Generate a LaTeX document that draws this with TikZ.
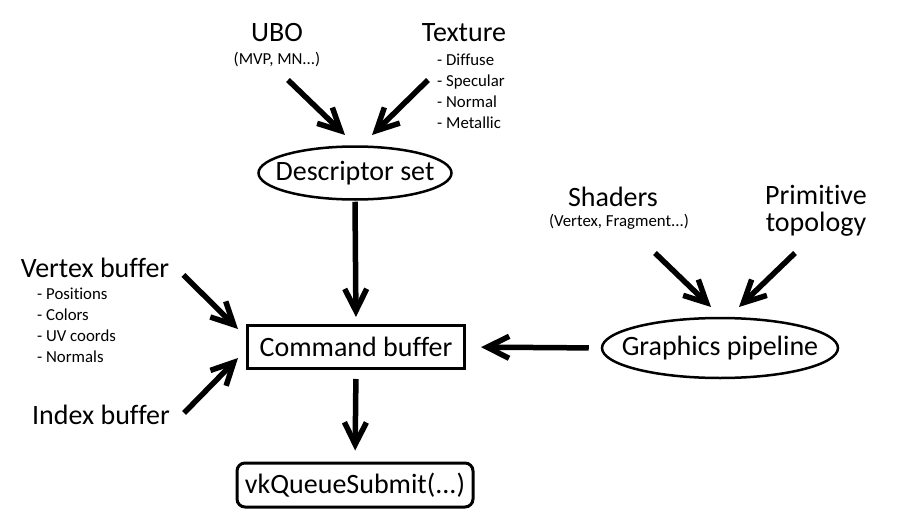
\documentclass[tikz,border=0pt]{standalone}
\usepackage{fontspec}
\setmainfont{Carlito}[Ligatures=NoCommon]
\usetikzlibrary{arrows.meta,positioning,shapes.geometric}

\begin{document}
\begin{tikzpicture}[
  x=1pt, y=-1pt,
  every node/.style={font=\fontsize{28}{27}\selectfont, inner sep=0pt},
  title/.style={align=center},
  items/.style={font=\fontsize{16.8}{21}\selectfont, align=left},
  note/.style={font=\fontsize{16.8}{21}\selectfont},
  oval/.style={draw, ellipse, line width=2.5pt},
  box/.style={draw, line width=3pt},
  arrow/.style={line width=5.5pt, -{Straight Barb[length=22pt,width=22pt]}}
]
\useasboundingbox (0,0) rectangle (911,527);

% descriptor set and its inputs
\node[title] (ubo) at (277,33) {UBO};
\node[note] (ubosub) at (277,60) {(MVP, MN...)};
\node[title] (tex) at (464,33) {Texture};
\node[items, anchor=west] (texlist) at (437,91) {- Diffuse\\- Specular\\- Normal\\- Metallic};
\node[oval, minimum width=193pt, minimum height=53pt, label={center:Descriptor set}] (ds) at (355,173) {};

% command buffer and submit
\node[box, minimum width=217pt, minimum height=43pt] (cb) at (356,347) {Command buffer};
\node[box, rounded corners=8pt, minimum width=236pt, minimum height=44pt] (vk) at (355,485) {vkQueueSubmit(...)};

% vertex and index buffers
\node[title] (vb) at (95,268) {Vertex buffer};
\node[items, anchor=west] (vblist) at (37,325) {- Positions\\- Colors\\- UV coords\\- Normals};
\node[title] (ib) at (101,415) {Index buffer};

% graphics pipeline and its inputs
\node[oval, minimum width=236pt, minimum height=60pt, label={center:Graphics pipeline}] (gp) at (720,348) {};
\node[title] (sh) at (613,197) {Shaders};
\node[note] (shsub) at (619,222) {(Vertex, Fragment...)};
\node[title] (prim) at (816,211) {Primitive\\topology};

% connectors
\draw[arrow] ([shift={(11,20)}]ubosub.center) -- ([shift={(-10,-38)}]ds.center);
\draw[arrow] ([shift={(-9,-11)}]texlist.west) -- ([shift={(17,-38)}]ds.center);
\draw[arrow, shorten <=1pt, shorten >=7pt] (ds.south) -- (cb.north);
\draw[arrow, shorten <=9pt, shorten >=11pt] (cb.south) -- (vk.north);
\draw[arrow] ([shift={(14,7)}]vb.east) -- ([shift={(-8,-18)}]cb.west);
\draw[arrow] ([shift={(14,-2)}]ib.east) -- ([shift={(-8,11)}]cb.west);
\draw[arrow, shorten <=12pt, shorten >=15pt] (gp.west) -- (cb.east);
\draw[arrow] ([shift={(36,31)}]shsub.center) -- ([shift={(-9,-41)}]gp.center);
\draw[arrow] ([shift={(-21,42)}]prim.center) -- ([shift={(19,-41)}]gp.center);
\end{tikzpicture}
\end{document}
